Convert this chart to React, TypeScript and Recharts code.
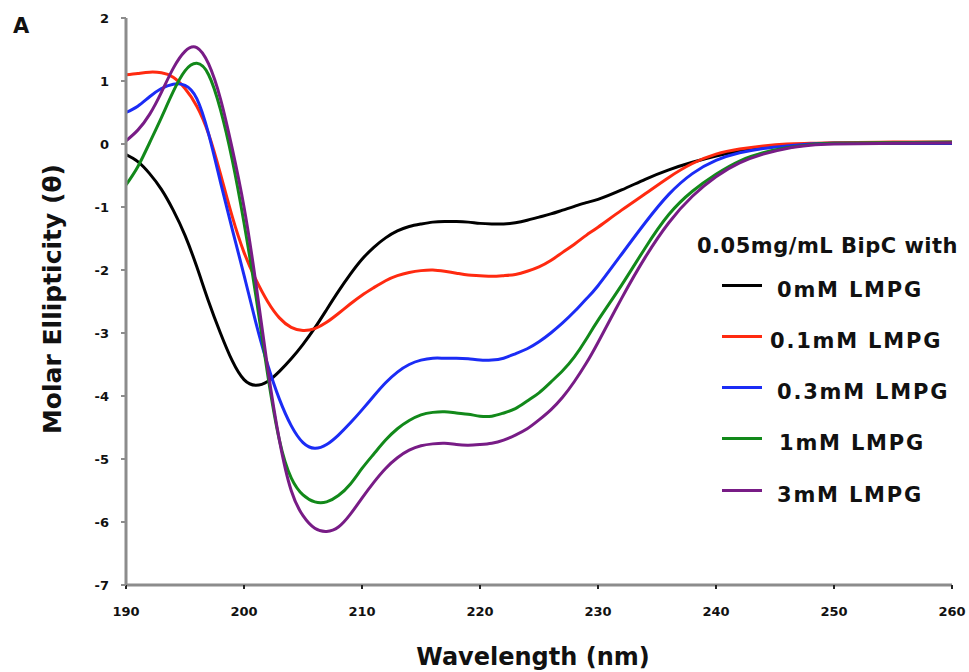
import { LineChart, Line, XAxis, YAxis, Label } from "recharts";

// wavelength grid (nm) and molar ellipticity
const WAVELENGTH = [
  190, 191, 192, 193, 194, 195, 196, 197, 198, 199, 200, 201, 202, 203, 204, 205, 206, 207, 208, 209,
  210, 211, 212, 213, 214, 215, 216, 217, 218, 219, 220, 221, 222, 223, 224, 225, 226, 227, 228, 229,
  230, 232, 234, 236, 238, 240, 242, 244, 246, 248, 250, 255, 260,
];

const LMPG_0 = [
  -0.17, -0.28, -0.47, -0.72, -1.05, -1.45, -1.95, -2.5, -3.0, -3.44, -3.74, -3.83, -3.77, -3.61, -3.41, -3.18, -2.92, -2.63, -2.34, -2.07,
  -1.83, -1.64, -1.49, -1.38, -1.31, -1.27, -1.24, -1.23, -1.23, -1.24, -1.26, -1.27, -1.27, -1.25, -1.21, -1.16, -1.11, -1.05, -0.99, -0.93,
  -0.88, -0.73, -0.56, -0.41, -0.29, -0.19, -0.11, -0.05, -0.02, 0.0, 0.01, 0.01, 0.01,
];

const LMPG_01 = [
  1.1, 1.12, 1.14, 1.13, 1.06, 0.88, 0.6, 0.16, -0.47, -1.15, -1.72, -2.15, -2.5, -2.76, -2.91, -2.96, -2.93, -2.83, -2.69, -2.54,
  -2.4, -2.28, -2.17, -2.09, -2.04, -2.01, -2.0, -2.02, -2.05, -2.08, -2.09, -2.1, -2.09, -2.07, -2.02, -1.95, -1.85, -1.72, -1.59, -1.45,
  -1.32, -1.05, -0.79, -0.53, -0.31, -0.16, -0.08, -0.03, 0.0, 0.01, 0.02, 0.03, 0.03,
];

const LMPG_03 = [
  0.5, 0.6, 0.75, 0.88, 0.95, 0.93, 0.72, 0.16, -0.6, -1.35, -2.08, -2.83, -3.5, -4.05, -4.47, -4.74, -4.83, -4.77, -4.62, -4.43,
  -4.22, -4.0, -3.79, -3.62, -3.5, -3.43, -3.4, -3.4, -3.4, -3.41, -3.43, -3.43, -3.4, -3.33, -3.25, -3.14, -3.0, -2.84, -2.66, -2.46,
  -2.25, -1.75, -1.25, -0.8, -0.47, -0.26, -0.14, -0.07, -0.03, 0.0, 0.01, 0.01, 0.01,
];

const LMPG_1 = [
  -0.65, -0.36, 0.02, 0.42, 0.83, 1.16, 1.28, 1.1, 0.55, -0.25, -1.25, -2.4, -3.65, -4.7, -5.3, -5.57, -5.68, -5.68, -5.58, -5.4,
  -5.15, -4.92, -4.7, -4.52, -4.39, -4.3, -4.26, -4.25, -4.27, -4.29, -4.32, -4.32, -4.27, -4.2, -4.08, -3.95, -3.78, -3.6, -3.38, -3.1,
  -2.8, -2.24, -1.65, -1.12, -0.75, -0.48, -0.27, -0.14, -0.06, -0.01, 0.01, 0.02, 0.03,
];

const LMPG_3 = [
  0.05, 0.22, 0.47, 0.82, 1.2, 1.47, 1.53, 1.27, 0.72, -0.07, -1.0, -2.2, -3.55, -4.7, -5.5, -5.9, -6.1, -6.15, -6.08, -5.88,
  -5.62, -5.37, -5.15, -4.98, -4.86, -4.79, -4.76, -4.75, -4.77, -4.78, -4.77, -4.75, -4.7, -4.62, -4.52, -4.38, -4.22, -4.02, -3.77, -3.48,
  -3.15, -2.45, -1.8, -1.25, -0.83, -0.52, -0.3, -0.16, -0.07, -0.02, 0.0, 0.01, 0.02,
];

const X_TICKS = [190, 200, 210, 220, 230, 240, 250, 260];
const Y_TICKS = [-7, -6, -5, -4, -3, -2, -1, 0, 1, 2];

const SERIES = [
  { key: "c0", label: "0mM LMPG", color: "#000000", values: LMPG_0 },
  { key: "c01", label: "0.1mM LMPG", color: "#ff2a10", values: LMPG_01 },
  { key: "c03", label: "0.3mM LMPG", color: "#1b2cf5", values: LMPG_03 },
  { key: "c1", label: "1mM LMPG", color: "#12891a", values: LMPG_1 },
  { key: "c3", label: "3mM LMPG", color: "#781c86", values: LMPG_3 },
];

const rows = WAVELENGTH.map((nm, i) => {
  const row: Record<string, number> = { nm };
  SERIES.forEach((s) => (row[s.key] = s.values[i]));
  return row;
});

const FONT = "'DejaVu Sans', 'Liberation Sans', sans-serif";
const tickStyle = { fontSize: 13, fontWeight: 700, fontFamily: FONT, fill: "#111" };

// legend rows: y centre and text x, matched to the figure
const LEGEND_ROWS = [290, 341, 392, 443, 495];
const LEGEND_TEXT_X = [777, 770, 777, 779, 777];

export default function App() {
  return (
    <div style={{ position: "absolute", left: 0, top: 0, width: 969, height: 672, background: "#fff" }}>
      <LineChart width={969} height={672} data={rows} margin={{ top: 18, right: 17, bottom: 0, left: 0 }}>
        <XAxis
          dataKey="nm"
          type="number"
          domain={[190, 260]}
          ticks={X_TICKS}
          height={87}
          tick={tickStyle}
          tickSize={4}
          tickMargin={18}
          axisLine={{ stroke: "#8c8c8c", strokeWidth: 3 }}
          tickLine={{ stroke: "#222", strokeWidth: 2 }}
        >
          <Label
            content={({ viewBox }: any) => (
              <text
                x={533}
                y={viewBox.y + 80}
                textAnchor="middle"
                style={{ fontSize: 24, fontWeight: 700, fontFamily: FONT, fill: "#111" }}
              >
                Wavelength (nm)
              </text>
            )}
          />
        </XAxis>
        <YAxis
          type="number"
          domain={[-7, 2]}
          ticks={Y_TICKS}
          width={126}
          tick={tickStyle}
          tickSize={5}
          tickMargin={12}
          axisLine={{ stroke: "#8c8c8c", strokeWidth: 3 }}
          tickLine={{ stroke: "#8c8c8c", strokeWidth: 2 }}
        >
          <Label
            content={() => (
              <text
                transform="translate(61, 299) rotate(-90)"
                textAnchor="middle"
                style={{ fontSize: 25, fontWeight: 700, fontFamily: FONT, fill: "#111" }}
              >
                Molar Ellipticity (θ)
              </text>
            )}
          />
        </YAxis>
        {SERIES.map((s) => (
          <Line
            key={s.key}
            dataKey={s.key}
            type="natural"
            stroke={s.color}
            strokeWidth={3}
            dot={false}
            activeDot={false}
            isAnimationActive={false}
          />
        ))}
      </LineChart>

      <div
        style={{
          position: "absolute",
          left: 13,
          top: 14,
          fontFamily: FONT,
          fontWeight: 700,
          fontSize: 21,
          color: "#111",
        }}
      >
        A
      </div>

      {/* legend */}
      <div
        style={{
          position: "absolute",
          left: 697,
          top: 234,
          fontFamily: FONT,
          fontWeight: 700,
          fontSize: 21,
          letterSpacing: 0.5,
          color: "#111",
          whiteSpace: "nowrap",
        }}
      >
        0.05mg/mL BipC with
      </div>
      {SERIES.map((s, i) => (
        <div key={s.key}>
          <div
            style={{
              position: "absolute",
              left: 722,
              top: LEGEND_ROWS[i] - 6,
              width: 40,
              height: 3,
              background: s.color,
            }}
          />
          <div
            style={{
              position: "absolute",
              left: LEGEND_TEXT_X[i],
              top: LEGEND_ROWS[i] - 14,
              fontFamily: FONT,
              fontWeight: 700,
              fontSize: 21,
              letterSpacing: 1.8,
              lineHeight: "28px",
              color: "#111",
              whiteSpace: "nowrap",
            }}
          >
            {s.label}
          </div>
        </div>
      ))}
    </div>
  );
}
